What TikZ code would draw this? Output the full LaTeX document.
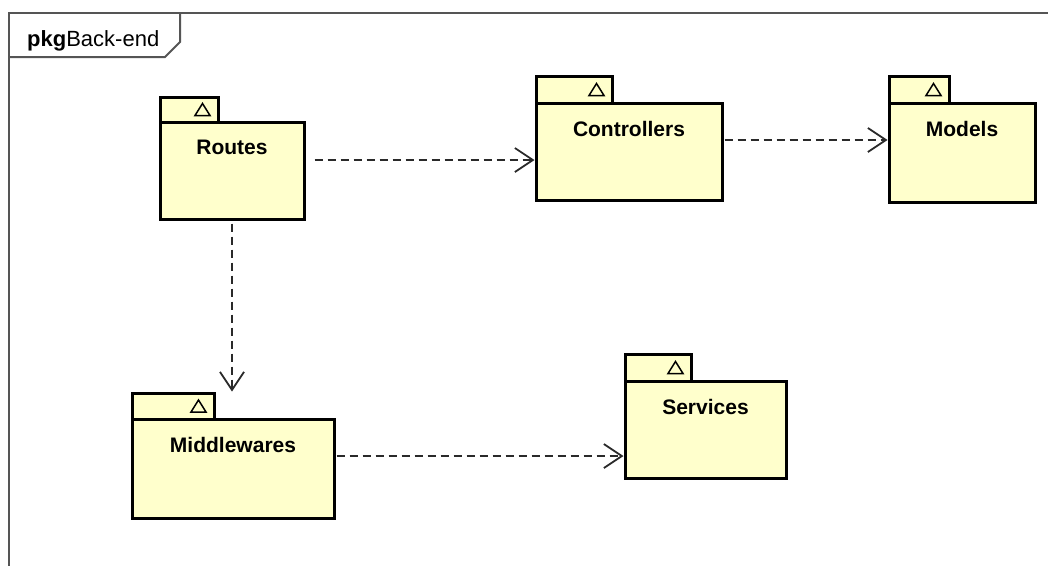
\documentclass[tikz,border=0pt]{standalone}
\usepackage{fontspec}
\setmainfont{Liberation Sans}
\usetikzlibrary{arrows.meta,fit,calc}
\definecolor{pkgfill}{HTML}{FFFFCC}
\definecolor{framegray}{HTML}{555555}
\definecolor{depgray}{HTML}{2A2A2A}

\tikzset{
  pkgbox/.style={draw=black, fill=pkgfill, line width=3pt, inner sep=0pt},
  pkgtitle/.style={font=\bfseries\fontsize{21}{25}\selectfont, anchor=center, inner sep=0pt},
  pkgmark/.style={draw=black, line width=1.5pt, line join=miter},
  dep/.style={draw=depgray, line width=1.3pt, dash pattern=on 8pt off 5pt,
    -{Straight Barb[length=18pt,width=24pt,line width=1.8pt]}},
  frameline/.style={draw=framegray, line width=2pt},
}

% package: name, label, left, tab top, tab right, body top, right, bottom
\newcommand\umlpkg[8]{%
  \node[pkgbox, fit={(#3,#4) (#5,#6)}] (#1-tab) {};
  \node[pkgbox, fit={(#3,#6) (#7,#8)}] (#1) {};
  \node[pkgtitle] (#1-title) at ([yshift=-27pt]#1.north) {#2};
  \draw[pkgmark] ([xshift=-17pt]#1-tab.east) ++(-7.5pt,-6pt) -- ++(15pt,0pt) -- ++(-7.5pt,12pt) -- cycle;
}

\begin{document}
\begin{tikzpicture}[x=1pt,y=-1pt]
  \useasboundingbox (0,0) rectangle (1048,566);
  \fill[white] (0,0) rectangle (1048,566);

  % frame and its name tab
  \draw[frameline] (1048,13) -- (9,13) -- (9,566);
  \draw[frameline] (9,57) -- (165,57) -- (180,42) -- (180,13);
  \node[anchor=base west, inner sep=0pt, font=\fontsize{22}{26}\selectfont] (framelabel) at (27,46) {\textbf{pkg}Back-end};

  % packages
  \umlpkg{routes}{Routes}{160}{97}{218}{122}{304}{219}
  \umlpkg{controllers}{Controllers}{536}{76}{612}{103}{722}{200}
  \umlpkg{models}{Models}{889}{76}{949}{103}{1035}{202}
  \umlpkg{middlewares}{Middlewares}{132}{393}{214}{419}{334}{518}
  \umlpkg{services}{Services}{625}{354}{691}{381}{786}{478}

  % dependencies
  \draw[dep] ([xshift=9pt,yshift=10.5pt]routes.east) coordinate (rc) -- (rc -| controllers.west);
  \draw[dep] ([xshift=1pt,yshift=11.5pt]controllers.east) coordinate (cm) -- (cm -| models.west);
  \draw[dep] ([yshift=-3pt]routes.south) -- (routes.south |- middlewares-tab.north);
  \draw[dep] ([xshift=1pt,yshift=12.5pt]middlewares.east) coordinate (ms) -- (ms -| services.west);
\end{tikzpicture}
\end{document}
